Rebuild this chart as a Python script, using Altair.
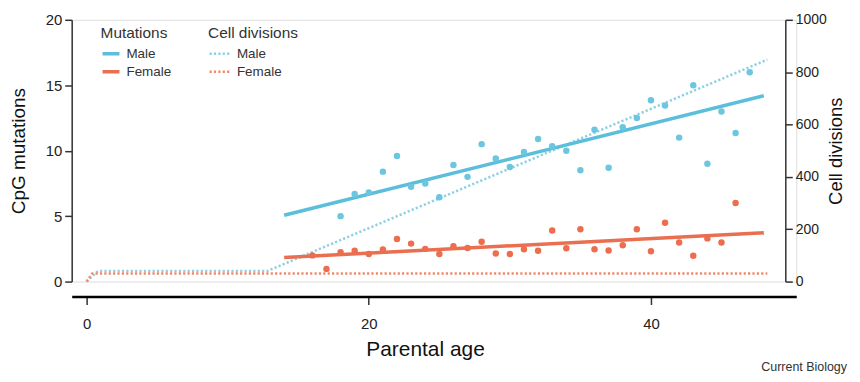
import altair as alt
import pandas as pd

FONT = "Liberation Sans"

# ---- data ----
male_ages = list(range(18, 48))
male_mut = [5.0, 6.7, 6.8, 8.4, 9.6, 7.25, 7.5, 6.45, 8.9, 8.0,
            10.5, 9.4, 8.75, 9.9, 10.9, 10.35, 10.0, 8.5, 11.6, 8.7,
            11.8, 12.5, 13.85, 13.45, 11.0, 15.0, 9.0, 13.0, 11.35, 16.0]
female_ages = list(range(16, 47))
female_mut = [2.0, 0.97, 2.25, 2.35, 2.1, 2.45, 3.25, 2.9, 2.5, 2.1,
              2.7, 2.57, 3.05, 2.15, 2.1, 2.47, 2.35, 3.9, 2.55, 4.0,
              2.47, 2.37, 2.77, 4.0, 2.32, 4.5, 2.98, 1.97, 3.3, 2.98, 6.0]

fit_ages = [14, 48]
male_fit = [5.07, 14.2]
female_fit = [1.84, 3.73]

male_cd_ages = [0, 0.8, 12.8, 48.25]
male_cd = [0, 40, 40, 848]
female_cd_ages = [0, 0.4, 48.25]
female_cd = [0, 31, 31]

sexes = ["Male", "Female"]
# second label set for the cell-division legend (kept distinct so the two legends stay apart)
sexes_cd = ["Male ", "Female "]
solid_colors = ["#5bbfdb", "#e96f50"]
dot_colors = ["#6dc6df", "#ec6e4f"]
dotted_colors = ["#8dd0e4", "#f0896c"]

x_ticks = [0, 20, 40]
left_ticks = [0, 5, 10, 15, 20]
right_ticks = [0, 200, 400, 600, 800, 1000]

# ---- tables ----
pts = pd.DataFrame({
    "age": male_ages + female_ages,
    "value": male_mut + female_mut,
    "sex": ["Male"] * len(male_ages) + ["Female"] * len(female_ages),
})
pts["col"] = pts["sex"].map(dict(zip(sexes, dot_colors)))

fits = pd.DataFrame({
    "age": fit_ages + fit_ages,
    "value": male_fit + female_fit,
    "sex": ["Male"] * 2 + ["Female"] * 2,
})

cd = pd.DataFrame({
    "age": male_cd_ages + female_cd_ages,
    "divisions": male_cd + female_cd,
    "grp": [sexes_cd[0]] * len(male_cd_ages) + [sexes_cd[1]] * len(female_cd_ages),
    "ord": list(range(len(male_cd_ages))) + list(range(len(female_cd_ages))),
})

xscale = alt.Scale(domain=[-1.058, 50.3], nice=False, zero=False)
xaxis = alt.Axis(values=x_ticks, offset=15, domainColor="black", domainWidth=2.5,
                 tickColor="#333", tickWidth=1.5, tickSize=8, labelPadding=12,
                 labelFont=FONT, labelFontSize=15, labelColor="#222", labelFlush=False,
                 title="Parental age", titleFont=FONT, titleFontSize=21,
                 titleFontWeight="normal", titleColor="#111", titleX=355, titleY=53,
                 titleBaseline="middle", titleAlign="center", grid=False)

x_enc = alt.X("age:Q", scale=xscale, axis=xaxis)

left_axis = alt.Axis(orient="left", values=left_ticks, domainColor="#333", domainWidth=1.5,
                     tickColor="#333", tickWidth=1.5, tickSize=7, labelPadding=3,
                     labelFont=FONT, labelFontSize=15, labelColor="#222", labelFlush=False,
                     title="CpG mutations", titleFont=FONT, titleFontSize=19,
                     titleFontWeight="normal", titleColor="#111", titleX=-53, titleY=131.5,
                     titleBaseline="middle", titleAlign="center", titleAngle=270, grid=False)

right_axis = alt.Axis(orient="right", offset=-11, values=right_ticks, format="d",
                      domainColor="#333", domainWidth=1.5, tickColor="#333", tickWidth=1.5,
                      tickSize=7, labelPadding=3, labelFont=FONT, labelFontSize=14,
                      labelColor="#222", labelFlush=False, title="Cell divisions",
                      titleFont=FONT, titleFontSize=18.5, titleFontWeight="normal",
                      titleColor="#111", titleX=50, titleY=131.5, titleBaseline="middle",
                      titleAlign="center", titleAngle=270, grid=False)

mut_legend = alt.Legend(title="Mutations", orient="none", legendX=29, legendY=6,
                        symbolType="stroke", symbolStrokeWidth=3.5, symbolSize=289,
                        titleFont=FONT, titleFontSize=15.5, titleFontWeight="normal",
                        titleColor="#333", labelFont=FONT, labelFontSize=13.5,
                        labelColor="#333", rowPadding=0, clipHeight=17.4, titlePadding=4,
                        labelOffset=5, padding=0)
cd_legend = alt.Legend(title="Cell divisions", orient="none", legendX=137, legendY=6,
                       symbolType="stroke", symbolStrokeWidth=2.5, symbolSize=441,
                       symbolDash=[2.2, 2.2],
                       titleFont=FONT, titleFontSize=15.5, titleFontWeight="normal",
                       titleColor="#333", labelFont=FONT, labelFontSize=13.5,
                       labelColor="#333", rowPadding=0, clipHeight=17.4, titlePadding=4,
                       labelOffset=5, padding=0)

cd_lines = alt.Chart(cd).mark_line(strokeWidth=2.5, strokeDash=[2.2, 2.2]).encode(
    x=x_enc,
    y=alt.Y("divisions:Q", scale=alt.Scale(domain=[0, 1000], nice=False), axis=right_axis),
    stroke=alt.Stroke("grp:N", scale=alt.Scale(domain=sexes_cd, range=dotted_colors),
                      legend=cd_legend),
    order="ord:Q",
)

yl = alt.Scale(domain=[0, 20], nice=False)

fit_lines = alt.Chart(fits).mark_line(strokeWidth=3.5).encode(
    x=x_enc,
    y=alt.Y("value:Q", scale=yl, axis=left_axis),
    color=alt.Color("sex:N", scale=alt.Scale(domain=sexes, range=solid_colors),
                    legend=mut_legend),
)

points = alt.Chart(pts).mark_circle(size=42, opacity=1).encode(
    x=x_enc,
    y=alt.Y("value:Q", scale=yl),
    color=alt.Color("col:N", scale=None, legend=None),
)

credit = alt.Chart(pd.DataFrame({"t": ["Current Biology"]})).mark_text(
    align="right", baseline="middle", font=FONT, fontSize=12.5, color="#333"
).encode(x=alt.value(779), y=alt.value(349), text="t:N")

left = alt.layer(fit_lines, points, credit)

chart = alt.layer(cd_lines, left).resolve_scale(
    y="independent"
).properties(
    width=728, height=263,
    autosize=alt.AutoSizeParams(type="none"),
    padding={"left": 64, "top": 11, "right": 56, "bottom": 92},
).configure_view(stroke=None).configure(background="white")

chart.save("out.html", embed_options={"renderer": "svg", "actions": False})
